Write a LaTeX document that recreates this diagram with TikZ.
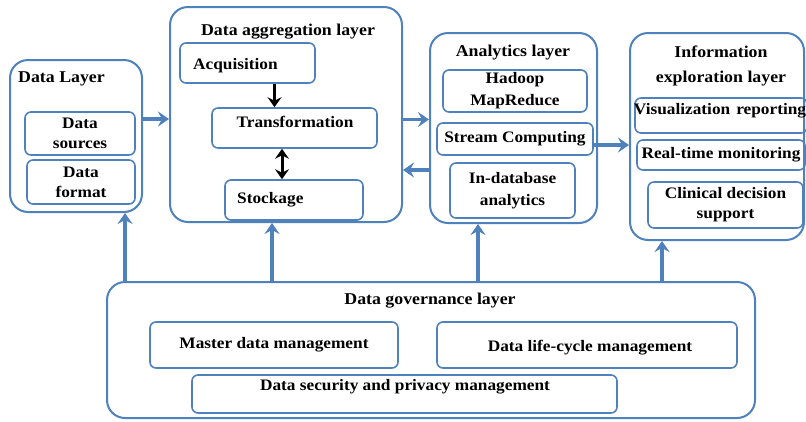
\documentclass[tikz,border=0pt]{standalone}
\usepackage{fontspec}
\setmainfont{Liberation Serif}[FakeStretch=1.08]
\usetikzlibrary{arrows.meta}
\definecolor{frame}{RGB}{79,129,189}
\begin{document}
\begin{tikzpicture}[x=1pt,y=-1pt,
  layer/.style={draw=frame, line width=2pt, rounded corners=18pt, inner sep=0pt},
  unit/.style={draw=frame, line width=1.6pt, rounded corners=6pt, inner sep=0pt,
    align=center, font=\fontsize{16}{20}\selectfont\bfseries},
  title/.style={font=\fontsize{16.5}{25}\selectfont\bfseries, align=center, inner sep=0pt},
  lbl/.style={font=\fontsize{16}{20}\selectfont\bfseries, inner sep=0pt},
  flow/.style={draw=frame, line width=3.2pt, -{Stealth[length=11pt,width=15pt,inset=4pt]}},
  pass/.style={draw=black, line width=3pt, -{Stealth[length=10pt,width=14pt,inset=3.5pt]}},
  pass2/.style={draw=black, line width=3pt, {Stealth[length=10pt,width=14pt,inset=3.5pt]}-{Stealth[length=10pt,width=14pt,inset=3.5pt]}}
]
\useasboundingbox (0,0) rectangle (806,421);
\clip (0,0) rectangle (806,421);

% Data layer
\node[layer, minimum width=132pt, minimum height=152pt] (datal) at (76,136) {};
\node[title, anchor=west] (datat) at (18,79) {Data Layer};
\node[unit, minimum width=110pt, minimum height=43pt] (src) at (80,133.5) {Data\\sources};
\node[unit, minimum width=108pt, minimum height=44pt] (fmt) at (81,182) {Data\\format};

% Data aggregation layer
\node[layer, minimum width=232pt, minimum height=215pt] (agg) at (286,114.5) {};
\node[title] (aggt) at (288,32) {Data aggregation layer};
\node[unit, minimum width=135pt, minimum height=40pt] (acq) at (247.5,63) {};
\node[lbl, anchor=west] (acqt) at (193,66) {Acquisition};
\node[unit, minimum width=165pt, minimum height=40pt] (trans) at (294.5,128) {};
\node[lbl] (transt) at (295,122) {Transformation};
\node[unit, minimum width=138pt, minimum height=40pt] (stock) at (294,200) {};
\node[lbl, anchor=west] (stockt) at (237,200) {Stockage};
\draw[pass] ([xshift=-20pt]acq.south -| trans.center) -- ([xshift=-20pt]trans.north);
\draw[pass2] ([xshift=-12.5pt]trans.south) -- ([xshift=-12.5pt]trans.south |- stock.north);

% Analytics layer
\node[layer, minimum width=167pt, minimum height=190pt] (anal) at (513.5,128) {};
\node[title] (analt) at (513,53) {Analytics layer};
\node[unit, minimum width=144pt, minimum height=42pt, font=\fontsize{16}{22}\selectfont\bfseries] (hadoop) at (515,91) {Hadoop\\MapReduce};
\node[unit, minimum width=156pt, minimum height=32pt] (stream) at (515,139) {Stream Computing};
\node[unit, minimum width=125pt, minimum height=55pt, font=\fontsize{16}{22}\selectfont\bfseries] (indb) at (512.5,190.5) {In-database\\analytics};

% Information exploration layer
\node[layer, minimum width=174pt, minimum height=207pt] (info) at (717,136.5) {};
\node[title] (infot) at (721,65.5) {Information\\exploration layer};
\node[unit, minimum width=172pt, minimum height=35pt] (vis) at (721,115.5) {};
\node[lbl] (vist) at (720,111) {Visualization\hspace{6pt}reporting};
\node[unit, minimum width=168pt, minimum height=30pt] (rtm) at (721,155) {Real-time monitoring};
\node[unit, minimum width=155pt, minimum height=46pt] (cds) at (725.5,205) {Clinical decision\\support};

% Data governance layer
\node[layer, minimum width=648pt, minimum height=136pt] (gov) at (431,350) {};
\node[title] (govt) at (430,301) {Data governance layer};
\node[unit, minimum width=248pt, minimum height=46pt] (mdm) at (274,345) {Master data management};
\node[unit, minimum width=300pt, minimum height=46pt] (dlc) at (587,345) {};
\node[lbl] (dlct) at (590,348) {Data life-cycle management};
\node[unit, minimum width=425pt, minimum height=38pt] (dsp) at (404.5,394) {};
\node[lbl] (dspt) at (405,387) {Data security and privacy management};

% Flows between layers
\draw[flow] ([yshift=17pt]datal.east) -- ([yshift=17pt]datal.east -| agg.west);
\draw[flow] ([yshift=-5pt]agg.east) -- ([yshift=-5pt]agg.east -| anal.west);
\draw[flow] ([yshift=-42pt]anal.west) -- ([yshift=-42pt]anal.west -| agg.east);
\draw[flow] ([yshift=-6pt]stream.east) -- ([yshift=-6pt]stream.east -| info.west);

% Governance feeds every layer
\draw[flow] ([xshift=49pt]datal.south |- gov.north) -- ([xshift=49pt]datal.south);
\draw[flow] ([xshift=-14pt]agg.south |- gov.north) -- ([xshift=-14pt]agg.south);
\draw[flow] ([xshift=-35.5pt]anal.south |- gov.north) -- ([xshift=-35.5pt]anal.south);
\draw[flow] ([xshift=-55pt]info.south |- gov.north) -- ([xshift=-55pt]info.south);
\end{tikzpicture}
\end{document}
